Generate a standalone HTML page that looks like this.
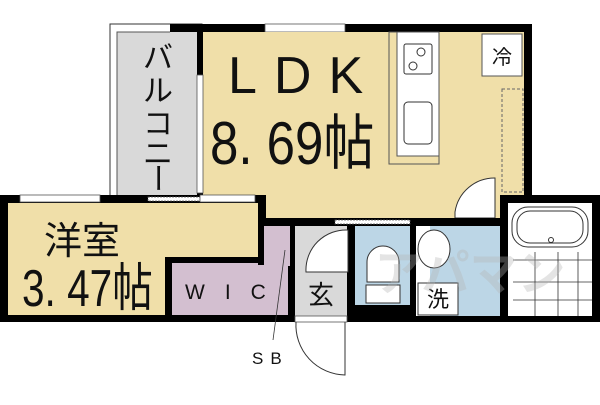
<!DOCTYPE html>
<html><head><meta charset="utf-8"><style>
body{margin:0;background:#fff;width:600px;height:400px;overflow:hidden}
svg text{font-family:"Liberation Sans","Noto Sans CJK JP",sans-serif;fill:#111}
</style></head><body>
<svg width="600" height="400" viewBox="0 0 600 400" xmlns="http://www.w3.org/2000/svg">
<!-- balcony -->
<rect x="110" y="24" width="92" height="172" fill="#fff" stroke="#333" stroke-width="1"/>
<rect x="117" y="32" width="80" height="164" fill="#d9d9d9" stroke="#555" stroke-width="1"/>
<!-- LDK -->
<rect x="170" y="24" width="362" height="200" fill="#000"/>
<rect x="265" y="24" width="80" height="8" fill="#fff" stroke="#555" stroke-width="0.8"/>
<rect x="203" y="32" width="321" height="186" fill="#f0dfa9"/>
<rect x="170" y="32" width="27" height="166" fill="#d9d9d9"/>
<rect x="197" y="75" width="6" height="118" fill="#fff" stroke="#555" stroke-width="0.8"/>
<!-- kitchen -->
<rect x="389" y="32" width="50" height="132" fill="none" stroke="#555"/>
<rect x="397" y="32" width="42" height="124" fill="#fff" stroke="#555"/>
<rect x="404" y="44" width="28" height="30" fill="#fff" stroke="#333" rx="2"/>
<circle cx="421" cy="52" r="4" fill="none" stroke="#333"/><circle cx="413" cy="66" r="4" fill="none" stroke="#333"/>
<rect x="404" y="102" width="28" height="42" fill="#fff" stroke="#333" rx="4"/>
<rect x="482" y="34" width="40" height="42" fill="#fff" stroke="#555"/>
<text x="502" y="64" font-size="20" text-anchor="middle">冷</text>
<rect x="502" y="89" width="21" height="103" fill="none" stroke="#666" stroke-dasharray="3,2"/>
<!-- door into hall -->
<path d="M455 218 L455 212 A40 40 0 0 1 495 178 L495 218 Z" fill="#fff" stroke="#333"/>
<!-- western room -->
<rect x="0" y="195" width="266" height="127" fill="#000"/>
<rect x="8" y="203" width="250" height="112" fill="#f0dfa9"/>
<rect x="20" y="195" width="80" height="7" fill="#fff" stroke="#555" stroke-width="0.8"/>
<rect x="148" y="197" width="52" height="4" fill="#fff" stroke="#555" stroke-width="0.8" stroke-dasharray="2,1"/>
<rect x="200" y="195" width="55" height="7" fill="#fff" stroke="#555" stroke-width="0.8"/>
<!-- WIC -->
<rect x="165" y="257" width="130" height="65" fill="#000"/>
<rect x="172" y="263" width="116" height="52" fill="#d3bfd0"/>
<rect x="258" y="218" width="37" height="47" fill="#000"/>
<rect x="264" y="226" width="28" height="40" fill="#d3bfd0"/>
<!-- entrance -->
<rect x="290" y="218" width="210" height="104" fill="#000"/>
<rect x="295" y="226" width="52" height="90" fill="#d9d9d9"/>
<path d="M306 272 A40 40 0 0 1 348 230 L348 272 Z" fill="#fff" stroke="#333"/>
<rect x="295" y="316" width="52" height="6" fill="#fff" stroke="#555" stroke-width="0.8"/>
<path d="M296 322 A50 50 0 0 0 345 375 L345 322" fill="none" stroke="#333"/>
<text x="321" y="304" font-size="26" text-anchor="middle">玄</text>
<!-- toilet -->
<rect x="355" y="226" width="55" height="79" fill="#bcd6e6"/>
<rect x="335" y="220" width="75" height="4" fill="#fff" stroke="#555" stroke-width="0.8" stroke-dasharray="2,1"/>
<path d="M367 282 L367 262 A16 16 0 0 1 399 262 L399 282 Z" fill="#fff" stroke="#333"/>
<rect x="366" y="285" width="34" height="18" fill="#fff" stroke="#333"/>
<!-- wash -->
<rect x="416" y="226" width="84" height="90" fill="#bcd6e6"/>
<rect x="416" y="226" width="14" height="90" fill="#fff"/>
<ellipse cx="434" cy="249" rx="16" ry="19" fill="#fff" stroke="#333"/>
<rect x="418" y="283" width="40" height="32" fill="#fff" stroke="#333"/>
<text x="438" y="307" font-size="22" text-anchor="middle">洗</text>
<!-- bath -->
<rect x="500" y="195" width="100" height="127" fill="#000"/>
<rect x="508" y="203" width="84" height="113" fill="#fff"/>
<rect x="512" y="207" width="76" height="40" rx="16" fill="none" stroke="#333"/>
<rect x="517" y="211" width="66" height="32" rx="13" fill="none" stroke="#333"/>
<circle cx="551" cy="240" r="2.5" fill="none" stroke="#333"/>
<g stroke="#333" fill="none" stroke-width="0.8">
<line x1="513" y1="260" x2="592" y2="260"/><line x1="513" y1="282" x2="592" y2="282"/><line x1="513" y1="300" x2="592" y2="300"/>
<line x1="535" y1="252" x2="535" y2="316"/><line x1="558" y1="252" x2="558" y2="316"/><line x1="578" y1="252" x2="578" y2="316"/>
</g>
<!-- watermark -->
<text x="470" y="290" font-size="48" text-anchor="middle" style="fill:#b5b5b5;opacity:.35" font-weight="bold">アパマン</text>
<!-- labels -->
<text x="228" y="93" font-size="52" letter-spacing="17">LDK</text>
<text x="210" y="164" font-size="60" transform="translate(210 0) scale(0.85 1) translate(-210 0)">8. 69帖</text>
<g font-size="30" text-anchor="middle">
<text x="158" y="68">バ</text><text x="158" y="101">ル</text><text x="158" y="134">コ</text><text x="158" y="164">ニ</text><text x="158" y="189" transform="rotate(90 158 178)">ー</text>
</g>
<text x="44" y="254" font-size="38">洋室</text>
<text x="22" y="306" font-size="52" transform="translate(22 0) scale(0.78 1) translate(-22 0)">3. 47帖</text>
<text x="185" y="299" font-size="21" letter-spacing="20">WIC</text>
<line x1="285" y1="250" x2="273" y2="340" stroke="#333" stroke-width="0.8"/>
<text x="252" y="364" font-size="17" letter-spacing="7">SB</text>
</svg>
</body></html>
